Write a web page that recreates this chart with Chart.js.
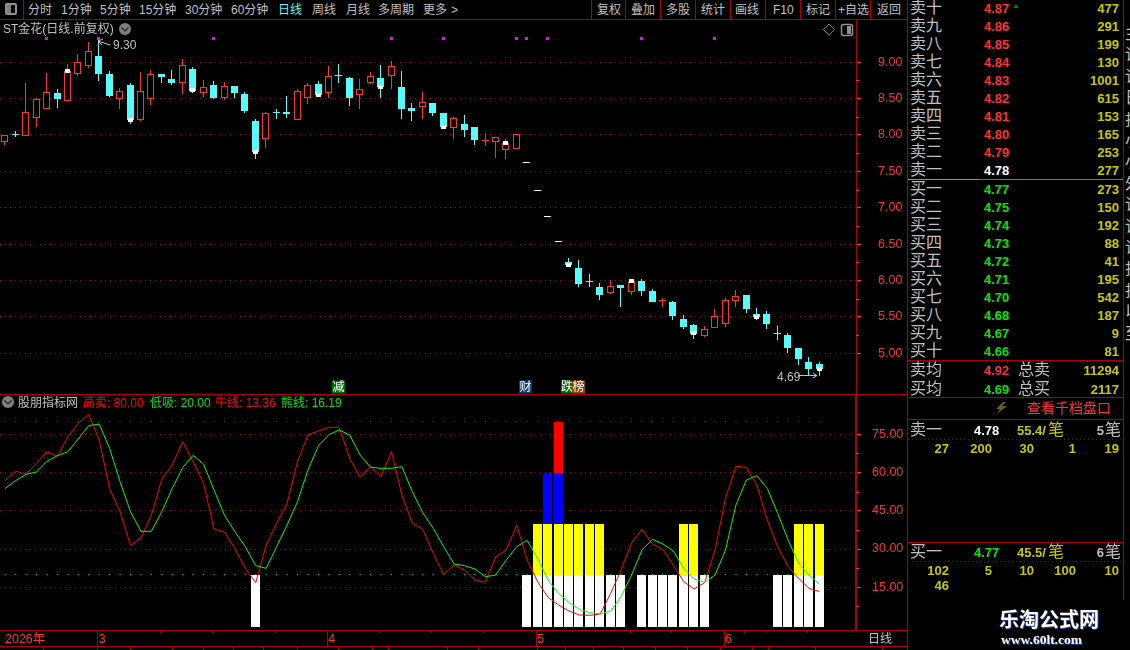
<!DOCTYPE html>
<html lang="zh">
<head>
<meta charset="utf-8">
<title>ST金花</title>
<script src="https://cdn.jsdelivr.net/npm/chart.js@4"></script>
<style>
  html, body { margin: 0; padding: 0; background: #000; overflow: hidden; }
  #page { position: relative; width: 1130px; height: 650px; background: #000; overflow: hidden;
          font-family: "Liberation Sans", "Noto Sans CJK SC", sans-serif; }
  canvas { position: absolute; left: 0; }
  #mainChart { top: 20px; }
  #indexChart { top: 394px; }
  svg { position: absolute; left: 0; top: 0; }
</style>
</head>
<body>
<div id="page">
  <canvas id="mainChart" width="907" height="374"></canvas>
  <canvas id="indexChart" width="907" height="253"></canvas>
</div>
<script>
// candles, left to right
const opens = [
  7.90, 8.01, 7.99, 8.23, 8.35, 8.58, 8.47, 8.84, 8.95, 9.09,
  8.84, 8.50, 8.69, 8.21, 8.50, 8.84, 8.77, 8.71, 8.91, 8.57,
  8.69, 8.51, 8.67, 8.56, 8.19, 7.95, 8.31, 8.32, 8.20, 8.51,
  8.70, 8.58, 8.82, 8.78, 8.55, 8.72, 8.78, 8.81, 8.66, 8.37,
  8.39, 8.44, 8.30, 8.09, 8.15, 8.11, 7.92, 7.90, 7.80, 7.81,
  7.63, 7.24, 6.88, 6.54, 6.26, 6.17, 5.99, 5.91, 5.83, 5.94,
  5.84, 5.99, 5.86, 5.72, 5.71, 5.47, 5.39, 5.24, 5.35, 5.40,
  5.72, 5.80, 5.54, 5.54, 5.28, 5.25, 5.07, 4.88, 4.85];
const closes = [
  8.00, 8.00, 8.31, 8.49, 8.59, 8.50, 8.88, 9.00, 9.16, 8.84,
  8.54, 8.60, 8.21, 8.60, 8.84, 8.79, 8.72, 8.96, 8.61, 8.66,
  8.51, 8.67, 8.58, 8.33, 7.77, 8.30, 8.30, 8.29, 8.60, 8.68,
  8.55, 8.81, 8.81, 8.51, 8.63, 8.81, 8.66, 8.95, 8.36, 8.33,
  8.45, 8.30, 8.11, 8.23, 8.07, 7.93, 7.93, 7.97, 7.89, 8.02,
  7.63, 7.24, 6.88, 6.54, 6.21, 5.95, 5.98, 5.80, 5.93, 5.90,
  5.99, 5.86, 5.71, 5.73, 5.51, 5.36, 5.27, 5.34, 5.51, 5.73,
  5.78, 5.61, 5.50, 5.40, 5.27, 5.07, 4.92, 4.78, 4.78];
const highs = [
  8.00, 8.05, 8.72, 8.51, 8.85, 8.63, 8.97, 9.11, 9.28, 9.30,
  8.88, 8.65, 8.72, 8.87, 8.89, 8.84, 8.89, 9.05, 8.94, 8.76,
  8.74, 8.73, 8.67, 8.59, 8.22, 8.32, 8.35, 8.54, 8.63, 8.72,
  8.74, 8.95, 8.98, 8.80, 8.77, 8.87, 8.96, 9.02, 8.88, 8.44,
  8.59, 8.44, 8.30, 8.25, 8.28, 8.11, 8.03, 7.97, 7.95, 8.02,
  7.63, 7.24, 6.88, 6.54, 6.31, 6.28, 6.09, 5.97, 6.01, 5.94,
  5.99, 6.02, 5.88, 5.76, 5.72, 5.53, 5.40, 5.38, 5.61, 5.76,
  5.87, 5.80, 5.62, 5.58, 5.38, 5.28, 5.07, 4.95, 4.88];
const lows = [
  7.86, 7.97, 7.99, 8.11, 8.35, 8.37, 8.47, 8.81, 8.92, 8.74,
  8.52, 8.36, 8.15, 8.19, 8.41, 8.72, 8.69, 8.56, 8.58, 8.52,
  8.50, 8.48, 8.51, 8.30, 7.67, 7.82, 8.22, 8.23, 8.20, 8.43,
  8.52, 8.51, 8.72, 8.40, 8.36, 8.70, 8.51, 8.63, 8.22, 8.19,
  8.22, 8.26, 8.08, 7.95, 7.97, 7.86, 7.85, 7.69, 7.67, 7.81,
  7.63, 7.24, 6.88, 6.54, 6.19, 5.91, 5.91, 5.73, 5.82, 5.64,
  5.80, 5.79, 5.71, 5.64, 5.46, 5.33, 5.20, 5.22, 5.35, 5.36,
  5.64, 5.55, 5.46, 5.33, 5.18, 5.00, 4.84, 4.70, 4.69];

const priceTicks = [5, 5.5, 6, 6.5, 7, 7.5, 8, 8.5, 9];
const priceMinorTicks = [5.25, 5.75, 6.25, 6.75, 7.25, 7.75, 8.25, 8.75];
const closeMarks = [6, 12, 18, 24, 30, 36, 42, 48, 54, 60, 66, 72, 78];
const topSignals = [4, 9, 20, 37, 42, 49, 50, 52, 61, 68];
const topSignalPrice = 9.33;

// indicator lines
const bullLine = [
  56.81, 60.47, 59.43, 63.61, 68.06, 66.49, 74.07, 79.30, 82.83, 72.76,
  53.81, 44.66, 31.45, 34.20, 43.35, 57.34, 62.96, 72.11, 64.27, 55.77,
  37.86, 36.68, 30.28, 22.43, 16.81, 31.58, 40.08, 47.93, 64.27, 74.72,
  76.29, 77.73, 77.73, 65.57, 58.12, 62.57, 58.38, 68.19, 51.19, 40.08,
  37.73, 28.32, 20.08, 23.74, 21.78, 17.86, 16.94, 27.01, 29.62, 39.43,
  25.70, 17.21, 11.06, 8.06, 5.70, 4.13, 4.00, 4.53, 12.63, 21.78,
  32.50, 37.73, 31.98, 29.89, 23.74, 17.21, 14.33, 16.81, 29.62, 49.89,
  62.44, 62.04, 55.12, 41.39, 30.93, 23.09, 18.51, 14.59, 13.36];
const bearLine = [
  53.81, 56.81, 59.30, 60.21, 64.40, 66.62, 68.19, 73.15, 78.38, 79.04,
  69.49, 56.42, 44.66, 36.95, 36.95, 44.66, 53.81, 61.91, 66.75, 63.35,
  53.15, 43.35, 36.81, 30.93, 23.48, 22.43, 30.93, 39.43, 48.58, 61.00,
  70.41, 74.85, 76.68, 74.72, 66.88, 62.04, 61.65, 61.65, 62.30, 52.50,
  44.26, 38.12, 30.93, 24.13, 23.48, 22.17, 19.16, 19.82, 25.70, 30.93,
  33.41, 26.35, 17.86, 12.63, 9.10, 6.36, 5.05, 4.53, 5.70, 11.32,
  19.82, 29.62, 33.81, 31.98, 29.23, 22.43, 18.25, 16.94, 19.82, 29.62,
  47.27, 57.07, 58.77, 53.81, 44.00, 33.55, 24.40, 19.82, 16.19];
const sellLevel = 80;
const buyLevel = 20;

// which candles carry a signal block, one list per block colour
const whiteBlocks = [24, 50, 51, 52, 53, 54, 55, 56, 57, 58, 59, 61, 62, 63, 64, 65, 66, 67, 74, 75, 76, 77, 78];
const yellowBlocks = [51, 52, 53, 54, 55, 56, 57, 65, 66, 76, 77, 78];
const blueBlocks = [52, 53];
const redBlocks = [53];
const blockLevels = [-0.6, 20, 40, 60, 80];

const indexTicks = [15, 30, 45, 60, 75];
const indexMinorTicks = [7.5, 22.5, 37.5, 52.5, 67.5];
const monthStarts = [9, 31, 51, 69];
const monthLabels = ['3', '4', '5', '6'];
const dayTicks = [15, 20, 26, 36, 41, 46, 60, 64, 71, 73, 77];
const yearLabel = '2026年';

// order book
const sellNames = ['卖十', '卖九', '卖八', '卖七', '卖六', '卖五', '卖四', '卖三', '卖二', '卖一'];
const sellPrices = ['4.87', '4.86', '4.85', '4.84', '4.83', '4.82', '4.81', '4.80', '4.79', '4.78'];
const sellVolumes = [477, 291, 199, 130, 1001, 615, 153, 165, 253, 277];
const buyNames = ['买一', '买二', '买三', '买四', '买五', '买六', '买七', '买八', '买九', '买十'];
const buyPrices = ['4.77', '4.75', '4.74', '4.73', '4.72', '4.71', '4.70', '4.68', '4.67', '4.66'];
const buyVolumes = [273, 150, 192, 88, 41, 195, 542, 187, 9, 81];
const sellQueue = [27, 200, 30, 1, 19];
const buyQueue = [102, 5, 10, 100, 10];

const FRAME = '#b00000';
const RED = '#ff3232';
const CYAN = '#54fcfc';
const GREY = '#c0c0c0';
const YELLOW = '#c8c800';
const GREEN = '#00e800';
const GRID = '#a00000';
const FONT = '"Liberation Sans", "Noto Sans CJK SC", sans-serif';

const slots = Array.from({ length: 82 }, (_, i) => String(i));

const page = document.getElementById('page');

function put(text, x, y, color, size, opt = {}) {
    const el = document.createElement('div');
    el.textContent = text;
    el.style.cssText = `position:absolute;left:${x}px;top:${y}px;color:${color};font-size:${size}px;line-height:1;white-space:nowrap;` +
        `transform:translate(${opt.right ? '-100%' : '0'},-50%);font-weight:${opt.bold ? 'bold' : 'normal'};${opt.css || ''}`;
    page.appendChild(el);
    return el;
}

function box(x, y, w, h, color) {
    const el = document.createElement('div');
    el.style.cssText = `position:absolute;left:${x}px;top:${y}px;width:${w}px;height:${h}px;background:${color};`;
    page.appendChild(el);
    return el;
}

// snaps bars to whole pixels, the picture has no soft edges
const pixelSnap = {
    id: 'pixelSnap',
    beforeDatasetsDraw(chart) {
        chart.data.datasets.forEach((ds, i) => {
            const meta = chart.getDatasetMeta(i);
            if (meta.type !== 'bar') return;
            meta.data.forEach(el => {
                if (!Number.isFinite(el.y) || !Number.isFinite(el.base)) return;
                el.x = Math.floor(el.x - 0.37) + 0.5;
                el.y = Math.round(el.y);
                el.base = Math.round(el.base);
                if (el.y === el.base) el.base = el.y + 1;
            });
        });
    }
};

function minorTicks(values) {
    return {
        id: 'minorTicks',
        afterDraw(chart) {
            const s = chart.scales.y;
            const ctx = chart.ctx;
            ctx.save();
            ctx.strokeStyle = RED;
            ctx.lineWidth = 1;
            ctx.beginPath();
            values.forEach(v => {
                const y = Math.round(s.getPixelForValue(v)) + 0.5;
                ctx.moveTo(s.left, y);
                ctx.lineTo(s.left + 3, y);
            });
            ctx.stroke();
            ctx.restore();
        }
    };
}

const monthStrip = {
    id: 'monthStrip',
    afterDraw(chart) {
        const s = chart.scales.x;
        const ctx = chart.ctx;
        ctx.save();
        ctx.strokeStyle = FRAME;
        ctx.lineWidth = 1;
        ctx.beginPath();
        monthStarts.forEach(i => {
            const x = Math.round(s.getPixelForValue(i)) - 1.5;
            ctx.moveTo(x, s.top);
            ctx.lineTo(x, s.bottom);
        });
        dayTicks.forEach(i => {
            const x = Math.round(s.getPixelForValue(i)) - 1.5;
            ctx.moveTo(x, s.top);
            ctx.lineTo(x, s.top + 3);
        });
        ctx.stroke();
        ctx.restore();
    }
};

function candleColor(i) {
    if (closes[i] > opens[i]) return RED;
    if (closes[i] < opens[i]) return CYAN;
    return '#ffffff';
}
const candleColors = closes.map((_, i) => candleColor(i));

function yAxis(ticks, min, max, padding, borderWidth) {
    return {
        position: 'right',
        min: min,
        max: max,
        // tick padding would otherwise shrink the plot height
        afterFit: s => { s.width = 51; s.paddingTop = 0; s.paddingBottom = 0; },
        afterBuildTicks: s => { s.ticks = ticks.map(v => ({ value: v })); },
        border: { color: FRAME, width: borderWidth, dash: [1, 4] },
        grid: { color: GRID, lineWidth: 1, tickColor: RED, tickLength: 5 },
        ticks: {
            color: RED,
            padding: padding,
            font: { family: FONT, size: 12.5 },
            callback: v => v.toFixed(2)
        }
    };
}

new Chart(document.getElementById('mainChart'), {
    type: 'bar',
    data: {
        labels: slots,
        datasets: [
            {
                label: 'marks',
                data: closes.map((c, i) => closeMarks.includes(i) ? [c - 0.025, c + 0.03] : null),
                backgroundColor: '#ffffff',
                barThickness: 5,
                order: 1
            },
            {
                label: 'signals',
                data: closes.map((_, i) => topSignals.includes(i) ? [topSignalPrice - 0.02, topSignalPrice + 0.02] : null),
                backgroundColor: '#ff00ff',
                barThickness: 3,
                order: 1
            },
            {
                label: 'bodies',
                data: opens.map((o, i) => [o, closes[i]]),
                backgroundColor: candleColors.map(c => c === RED ? '#000000' : c),
                borderColor: candleColors,
                borderWidth: 1,
                borderSkipped: false,
                barThickness: 7,
                order: 2
            },
            {
                label: 'wicks',
                data: lows.map((l, i) => [l, highs[i]]),
                backgroundColor: candleColors,
                barThickness: 1,
                order: 3
            }
        ]
    },
    options: {
        responsive: false,
        animation: false,
        events: [],
        layout: { padding: 0, autoPadding: false },
        datasets: { bar: { grouped: false, inflateAmount: 0 } },
        plugins: { legend: { display: false }, tooltip: { enabled: false } },
        scales: {
            x: { display: false, offset: true },
            y: yAxis(priceTicks, 4.44, 9.58, 17, 1)
        }
    },
    plugins: [pixelSnap, minorTicks(priceMinorTicks)]
});

function blockData(list, from, to) {
    return bullLine.map((_, i) => list.includes(i) ? [from, to] : null);
}

new Chart(document.getElementById('indexChart'), {
    type: 'bar',
    data: {
        labels: slots,
        datasets: [
            { type: 'line', label: '牛线', data: bullLine, borderColor: '#ff0000', borderWidth: 1, pointRadius: 0, tension: 0, order: 1 },
            { type: 'line', label: '熊线', data: bearLine, borderColor: '#00ff00', borderWidth: 1, pointRadius: 0, tension: 0, order: 0 },
            { label: 'white', data: blockData(whiteBlocks, blockLevels[0], blockLevels[1]), backgroundColor: '#ffffff', barThickness: 9, order: 2 },
            { label: 'yellow', data: blockData(yellowBlocks, blockLevels[1], blockLevels[2]), backgroundColor: '#ffff00', barThickness: 9, order: 2 },
            { label: 'blue', data: blockData(blueBlocks, blockLevels[2], blockLevels[3]), backgroundColor: '#0000ff', barThickness: 9, order: 2 },
            { label: 'red', data: blockData(redBlocks, blockLevels[3], blockLevels[4]), backgroundColor: '#ff0000', barThickness: 9, order: 2 },
            { type: 'line', label: '高卖', data: Array(bullLine.length).fill(sellLevel), showLine: false, pointStyle: 'rect', pointRadius: 0.8, pointBackgroundColor: '#e00000', pointBorderWidth: 0, order: 3 },
            { type: 'line', label: '低吸', data: Array(bullLine.length).fill(buyLevel), showLine: false, pointStyle: 'rect', pointRadius: 0.8, pointBackgroundColor: '#00e000', pointBorderWidth: 0, order: 3 }
        ]
    },
    options: {
        responsive: false,
        animation: false,
        events: [],
        layout: { padding: 0, autoPadding: false },
        datasets: { bar: { grouped: false, inflateAmount: 0 } },
        plugins: { legend: { display: false }, tooltip: { enabled: false } },
        scales: {
            x: {
                offset: true,
                afterFit: s => { s.height = 17; s.paddingLeft = 0; s.paddingRight = 0; },
                afterBuildTicks: s => { s.ticks = monthStarts.map(i => ({ value: i })); },
                grid: { display: false, drawTicks: false },
                border: { display: false },
                ticks: {
                    color: RED,
                    padding: 2,
                    labelOffset: 3,
                    maxRotation: 0,
                    autoSkip: false,
                    font: { family: FONT, size: 12.5 },
                    callback: v => monthLabels[monthStarts.indexOf(v)]
                }
            },
            y: yAxis(indexTicks, -1.75, 90.8, 11, 2)
        }
    },
    plugins: [pixelSnap, minorTicks(indexMinorTicks), monthStrip]
});

// frame
box(0, 19, 907, 1, FRAME);
box(0, 394, 907, 1, FRAME);
box(0, 630, 907, 1, FRAME);
box(0, 646, 907, 1, FRAME);
box(907, 0, 1, 650, FRAME);
[43, 97, 130, 172, 203, 233, 263, 297, 338, 372, 388, 447, 478, 537, 565, 593, 623, 655, 687, 720, 752, 768, 815, 882]
    .forEach(x => box(x, 647, 1, 3, FRAME));

// toolbar
[['分时', 28], ['1分钟', 61], ['5分钟', 100], ['15分钟', 139], ['30分钟', 185], ['60分钟', 231], ['周线', 312], ['月线', 346], ['多周期', 378], ['更多', 423], ['>', 451]]
    .forEach(t => put(t[0], t[1], 9.5, GREY, 12));
put('日线', 278, 9.5, CYAN, 12);
[['复权', 597], ['叠加', 631], ['多股', 666], ['统计', 701], ['画线', 735], ['F10', 773], ['标记', 806], ['+自选', 838], ['返回', 877]]
    .forEach(t => put(t[0], t[1], 9.5, GREY, 12));
[23, 591, 625, 660, 695, 730, 765, 800, 835, 870].forEach(x => box(x, 0, 1, 19, FRAME));
const panelIcon = box(5, 3, 12, 12, '#000');
panelIcon.style.cssText += 'box-sizing:border-box;border:2px solid #909090;border-radius:2px;';
box(7, 5, 4, 8, '#808080');

// title row
put('ST金花(日线.前复权)', 3, 29, GREY, 12);
put('9.30', 113, 45, GREY, 12);
put('4.69', 777, 377, GREY, 12);
put(yearLabel, 5, 639, RED, 12.5);
put('日线', 868, 639, GREY, 12);

// indicator legend
put('股朋指标网', 18, 403, GREY, 12);
put('高卖: 80.00', 83, 403, '#ff0000', 12);
put('低吸: 20.00', 150, 403, '#00e800', 12);
put('牛线: 13.36', 215, 403, '#ff0000', 12);
put('熊线: 16.19', 281, 403, '#00e800', 12);

// event tags
function tag(text, x, w, color) {
    const el = put(text, x, 386.5, '#ffffff', 12, { css: `width:${w}px;height:13px;line-height:13px;text-align:center;background:${color};` });
    return el;
}
tag('减', 332, 13, '#007000');
tag('财', 519, 13, '#103c78');
tag('跌', 561, 11, '#007000');
tag('榜', 572, 13, '#8a4a00');

// order book
sellNames.forEach((name, i) => {
    const y = 8 + i * 18;
    put(name, 910, y, GREY, 16);
    put(sellPrices[i], 984, y, i === 9 ? '#ffffff' : RED, 13, { bold: true });
    put(String(sellVolumes[i]), 1119, y, YELLOW, 13, { bold: true, right: true });
});
buyNames.forEach((name, i) => {
    const y = 189 + i * 18;
    put(name, 910, y, GREY, 16);
    put(buyPrices[i], 984, y, GREEN, 13, { bold: true });
    put(String(buyVolumes[i]), 1119, y, YELLOW, 13, { bold: true, right: true });
});
box(908, 179, 70, 1, '#c89040');
box(978, 179, 145, 1, '#4080c0');
box(1123, 0, 1, 600, FRAME);
box(908, 360, 215, 1, FRAME);
box(908, 397, 215, 1, FRAME);
box(908, 419, 215, 1, FRAME);
box(908, 542, 215, 1, FRAME);

put('卖均', 910, 370, GREY, 16);
put('4.92', 984, 370, RED, 13, { bold: true });
put('总卖', 1018, 370, GREY, 16);
put('11294', 1119, 370, YELLOW, 13, { bold: true, right: true });
put('买均', 910, 388.5, GREY, 16);
put('4.69', 984, 388.5, GREEN, 13, { bold: true });
put('总买', 1018, 388.5, GREY, 16);
put('2117', 1119, 388.5, YELLOW, 13, { bold: true, right: true });
put('查看千档盘口', 1027, 408, RED, 14);

put('卖一', 910, 430, GREY, 16);
put('4.78', 974, 430, '#ffffff', 13, { bold: true });
put('55.4/', 1017, 430, YELLOW, 13, { bold: true });
put('笔', 1048, 430, YELLOW, 16);
put('5', 1104, 430, GREY, 13, { bold: true, right: true });
put('笔', 1105, 430, GREY, 16);
put('买一', 910, 552, GREY, 16);
put('4.77', 974, 552, GREEN, 13, { bold: true });
put('45.5/', 1017, 552, YELLOW, 13, { bold: true });
put('笔', 1048, 552, YELLOW, 16);
put('6', 1104, 552, GREY, 13, { bold: true, right: true });
put('笔', 1105, 552, GREY, 16);

const queueEnds = [949, 992, 1034, 1076, 1119];
sellQueue.forEach((v, i) => put(String(v), queueEnds[i], 448, YELLOW, 13, { bold: true, right: true }));
buyQueue.forEach((v, i) => put(String(v), queueEnds[i], 570, YELLOW, 13, { bold: true, right: true }));
put('46', queueEnds[0], 585, YELLOW, 13, { bold: true, right: true });

// dotted rules under the two queue headers
[439, 561].forEach(y => {
    const el = box(908, y, 213, 1, 'transparent');
    el.style.background = 'repeating-linear-gradient(90deg,#a00000 0 1px,transparent 1px 4px)';
});

// cut-off text at the right edge
'主论论日投小小外论论论投投以至'.split('').forEach((ch, i) => {
    const el = put(ch, 1125, 34 + i * 21.4, GREY, 16, { css: 'width:5px;overflow:hidden;' });
});

// watermark
put('乐淘公式网', 999, 619, '#ffffff', 20, { bold: true, css: 'text-shadow:1px 1px 0 #2040a0;font-family:"Noto Sans CJK SC";' });
put('www.60lt.com', 1001, 640, '#ffffff', 13.5, { bold: true, css: 'text-shadow:1px 1px 0 #2040a0;font-family:"Liberation Serif";' });

// small icons and arrows
page.insertAdjacentHTML('beforeend', `
<svg width="1130" height="650">
  <circle cx="125" cy="29" r="6" fill="#808080"/>
  <path d="M121.5 27.5 L125 31 L128.5 27.5" stroke="#202020" stroke-width="1.2" fill="none"/>
  <circle cx="8" cy="402" r="6" fill="#808080"/>
  <path d="M4.5 400.5 L8 404 L11.5 400.5" stroke="#202020" stroke-width="1.2" fill="none"/>
  <path d="M829 24 L834.5 29.5 L829 35 L823.5 29.5 Z" stroke="#808080" fill="none"/>
  <rect x="841.5" y="24.5" width="11" height="11" rx="2" fill="none" stroke="#909090" stroke-width="1.5"/>
  <rect x="847" y="26" width="4" height="8" fill="#909090"/>
  <path d="M98 41 L110 45" stroke="#c0c0c0" fill="none"/>
  <path d="M98 41 L103 39 M98 41 L102 45" stroke="#c0c0c0" fill="none"/>
  <path d="M798 375.5 L817 375.5 M813 373 L817 375.5 L813 378" stroke="#c0c0c0" fill="none"/>
  <path d="M1003 402 L996 409 L1000 409 L997 414 L1007 406 L1002 406 L1006 402 Z" fill="#6b5a1a"/>
  <path d="M1016 4 L1019 8 L1013 8 Z" fill="#0a7a0a"/>
</svg>`);
</script>
</body>
</html>
